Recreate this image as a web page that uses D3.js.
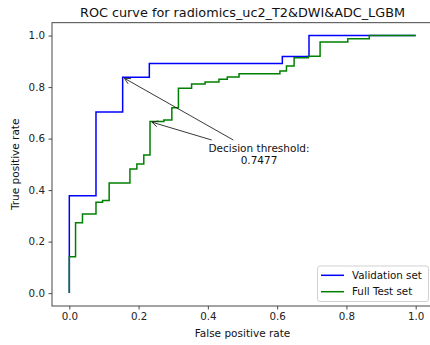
<!DOCTYPE html>
<html><head><meta charset="utf-8">
<script src="https://cdn.jsdelivr.net/npm/d3@7"></script>
<style>body{margin:0;background:#fff}svg{display:block;font-family:"DejaVu Sans",sans-serif}</style>
</head><body><svg id="c" width="430" height="345"></svg>
<script>
const title = "ROC curve for radiomics_uc2_T2&DWI&ADC_LGBM";
const xTicks = [0.0, 0.2, 0.4, 0.6, 0.8, 1.0];
const yTicks = [0.0, 0.2, 0.4, 0.6, 0.8, 1.0];
const valFpr = [0, 0, 0.077, 0.077, 0.154, 0.154, 0.231, 0.231, 0.615, 0.615, 0.692, 0.692, 1.0];
const valTpr = [0, 0.378, 0.378, 0.703, 0.703, 0.838, 0.838, 0.892, 0.892, 0.919, 0.919, 1.0, 1.0];
const testFpr = [0,0,0.018,0.018,0.038,0.038,0.077,0.077,0.096,0.096,0.115,0.115,0.175,0.175,0.195,0.195,0.215,0.215,0.233,0.233,0.273,0.273,0.296,0.296,0.315,0.315,0.353,0.353,0.392,0.392,0.432,0.432,0.456,0.456,0.49,0.49,0.608,0.608,0.627,0.627,0.649,0.649,0.69,0.69,0.724,0.724,0.804,0.804,0.866,0.866,1.0];
const testTpr = [0,0.141,0.141,0.273,0.273,0.307,0.307,0.353,0.353,0.36,0.36,0.428,0.428,0.482,0.482,0.501,0.501,0.536,0.536,0.666,0.666,0.672,0.672,0.72,0.72,0.795,0.795,0.812,0.812,0.82,0.82,0.83,0.83,0.839,0.839,0.852,0.852,0.862,0.862,0.882,0.882,0.914,0.914,0.92,0.92,0.975,0.975,0.988,0.988,1.0,1.0];
const seriesNames = ["Validation set", "Full Test set"];
const seriesColors = ["#0000ff", "#008000"];
const annotText = ["Decision threshold:", "0.7477"];
const annotPoints = [[0.154, 0.838], [0.233, 0.666]];

const svg = d3.select("#c");
const L = 52, R = 433, T = 22.7, B = 306;
const x = d3.scaleLinear().domain([-0.05, 1.05]).range([L, R]);
const y = d3.scaleLinear().domain([-0.05, 1.05]).range([B, T]);

const gx = svg.append("g").attr("transform", `translate(0,${B})`)
  .call(d3.axisBottom(x).tickValues(xTicks).tickFormat(d3.format(".1f")).tickSize(3.5).tickPadding(3.5));
const gy = svg.append("g").attr("transform", `translate(${L},0)`)
  .call(d3.axisLeft(y).tickValues(yTicks).tickFormat(d3.format(".1f")).tickSize(3.5).tickPadding(3.5));
[gx, gy].forEach(g => {
  g.select(".domain").remove();
  g.selectAll("text").attr("font-size", 10.3).attr("fill", "#222").attr("font-family", "DejaVu Sans");
  g.selectAll("line").attr("stroke", "#222").attr("stroke-width", 0.8);
});
svg.append("rect").attr("x", L).attr("y", T).attr("width", R - L).attr("height", B - T)
  .attr("fill", "none").attr("stroke", "#333").attr("stroke-width", 0.9);

const line = d3.line().x(d => x(d[0])).y(d => y(d[1]));
const valData = valFpr.map((v, i) => [v, valTpr[i]]);
const testData = testFpr.map((v, i) => [v, testTpr[i]]);
svg.append("path").datum(valData).attr("d", line).attr("fill", "none")
  .attr("stroke", seriesColors[0]).attr("stroke-width", 1.5);
svg.append("path").datum(testData).attr("d", line).attr("fill", "none")
  .attr("stroke", seriesColors[1]).attr("stroke-width", 1.5);

const tx = 259, ty1 = 152, ty2 = 164;
svg.append("text").attr("x", tx).attr("y", ty1).attr("text-anchor", "middle")
  .attr("font-size", 10.5).attr("fill", "#111").text(annotText[0]);
svg.append("text").attr("x", tx).attr("y", ty2).attr("text-anchor", "middle")
  .attr("font-size", 10.5).attr("fill", "#111").text(annotText[1]);
const tails = [[233.3, 140], [211.7, 140]];
annotPoints.forEach((p, i) => {
  const x2 = x(p[0]), y2 = y(p[1]);
  const [x1, y1] = tails[i];
  const dx = x2 - x1, dy = y2 - y1, len = Math.hypot(dx, dy);
  const ux = dx / len, uy = dy / len;
  const ex = x2 - ux * 2, ey = y2 - uy * 2;
  svg.append("line").attr("x1", x1).attr("y1", y1).attr("x2", ex).attr("y2", ey)
    .attr("stroke", "#222").attr("stroke-width", 0.9);
  const ah = 6, aw = 3;
  const px = -uy, py = ux;
  const p1 = [ex - ux * ah + px * aw, ey - uy * ah + py * aw];
  const p2 = [ex - ux * ah - px * aw, ey - uy * ah - py * aw];
  svg.append("path").attr("d", `M${p1[0]},${p1[1]}L${ex},${ey}L${p2[0]},${p2[1]}`)
    .attr("fill", "none").attr("stroke", "#222").attr("stroke-width", 0.9);
});

svg.append("text").attr("x", (L + R) / 2).attr("y", 16.5).attr("text-anchor", "middle")
  .attr("font-size", 12.8).attr("fill", "#111").text(title);
svg.append("text").attr("x", (L + R) / 2).attr("y", 337).attr("text-anchor", "middle")
  .attr("font-size", 10.5).attr("fill", "#111").text("False positive rate");
svg.append("text").attr("transform", `translate(19,${(T + B) / 2}) rotate(-90)`).attr("text-anchor", "middle")
  .attr("font-size", 10.5).attr("fill", "#111").text("True positive rate");

const lg = svg.append("g");
lg.append("rect").attr("x", 317.5).attr("y", 266).attr("width", 111).attr("height", 35.5).attr("rx", 2.5)
  .attr("fill", "#fff").attr("fill-opacity", 0.8).attr("stroke", "#ccc").attr("stroke-width", 0.9);
seriesNames.forEach((n, i) => {
  const yy = 275.3 + i * 16.4;
  lg.append("line").attr("x1", 321).attr("x2", 344).attr("y1", yy).attr("y2", yy)
    .attr("stroke", seriesColors[i]).attr("stroke-width", 1.5);
  lg.append("text").attr("x", 352).attr("y", yy + 3.6).attr("font-size", 10.3).attr("fill", "#111").text(n);
});
</script></body></html>
